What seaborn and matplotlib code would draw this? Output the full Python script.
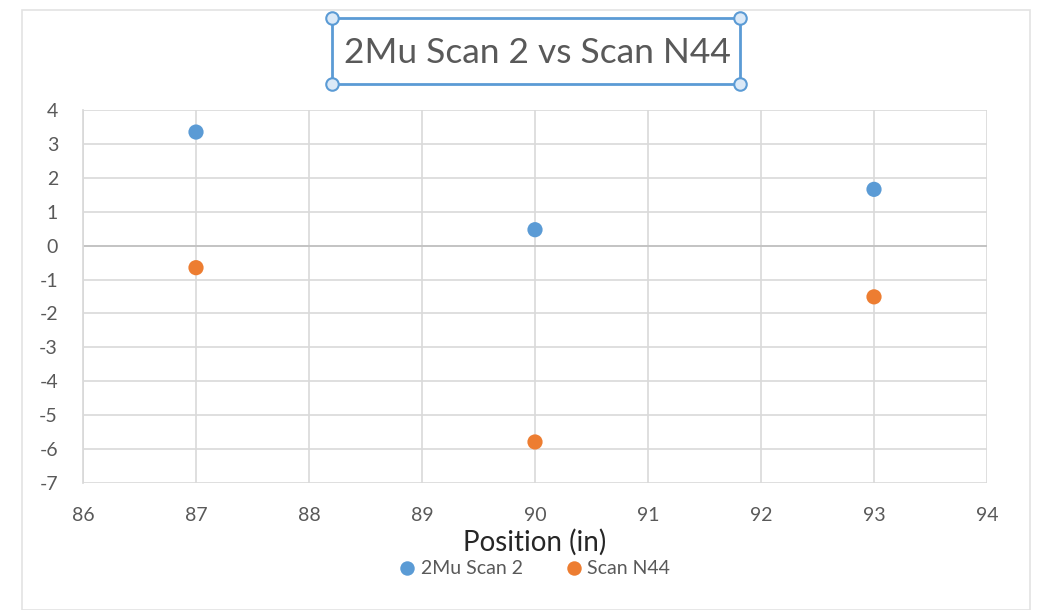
import matplotlib
matplotlib.use("Agg")
import matplotlib.pyplot as plt
import seaborn as sns
import pandas as pd
from matplotlib.patches import Rectangle

positions = [87, 90, 93]
scan_2mu = [3.35, 0.47, 1.66]
scan_n44 = [-0.65, -5.79, -1.51]
series_names = ["2Mu Scan 2", "Scan N44"]
x_ticks = [86, 87, 88, 89, 90, 91, 92, 93, 94]
y_ticks = [4, 3, 2, 1, 0, -1, -2, -3, -4, -5, -6, -7]
title = "2Mu Scan 2 vs Scan N44"
x_label = "Position (in)"

df = pd.DataFrame({
    "Position": positions * 2,
    "Value": scan_2mu + scan_n44,
    "Series": [series_names[0]] * 3 + [series_names[1]] * 3,
})

sns.set_theme(style="white")
plt.rcParams["font.family"] = ["Lato", "DejaVu Sans"]
plt.rcParams["axes.unicode_minus"] = False
TXT = "#595959"

W, H = 1038, 610
fig = plt.figure(figsize=(W / 100, H / 100), dpi=100)
ax = fig.add_axes([83 / W, 1 - 483 / H, (987 - 83) / W, (483 - 110) / H])

sns.scatterplot(data=df, x="Position", y="Value", hue="Series",
                palette=["#5B9BD5", "#ED7D31"], s=120, edgecolor="none",
                ax=ax, legend=True, zorder=3)

ax.set_xlim(86, 94)
ax.set_ylim(-7, 4)
ax.set_xticks(x_ticks)
ax.set_yticks(y_ticks)
ax.set_yticklabels([str(v) for v in y_ticks])
ax.grid(True, color="#d9d9d9", linewidth=1.2)
ax.set_axisbelow(True)
for s in ["top", "right", "bottom"]:
    ax.spines[s].set_visible(False)
ax.spines["left"].set_color("#d9d9d9")
ax.axhline(0, color="#bfbfbf", linewidth=1.2, zorder=1)
ax.tick_params(axis="both", colors=TXT, labelsize=14, length=0)
ax.tick_params(axis="y", pad=18)
ax.tick_params(axis="x", pad=17)
ax.set_ylabel("")
ax.set_xlabel(x_label, fontsize=20, color="#262626", labelpad=4)

leg = ax.legend(loc="center", bbox_to_anchor=(529 / W, 1 - 569 / H),
                bbox_transform=fig.transFigure, ncol=2, frameon=False,
                fontsize=14, handletextpad=-0.3, columnspacing=1.6,
                markerscale=0.95)
for t in leg.get_texts():
    t.set_color(TXT)

fig.text(537 / W, 1 - 53 / H, title, ha="center", va="center",
         fontsize=25.5, color=TXT)

# chart-area border and title selection box
fig.add_artist(Rectangle((22 / W, 0), (1030 - 22) / W, (605 - 5) / H,
                         transform=fig.transFigure, fill=False,
                         edgecolor="#e3e3e3", linewidth=1.2))
fig.add_artist(Rectangle((332 / W, 1 - 84 / H), (740 - 332) / W, (84 - 18) / H,
                         transform=fig.transFigure, fill=False,
                         edgecolor="#5B9BD5", linewidth=2))
for (px, py) in [(332, 18), (740, 18), (332, 84), (740, 84)]:
    fig.add_artist(plt.Line2D([px / W], [1 - py / H], marker="o",
                              markersize=9, markerfacecolor="#dbe9f7",
                              markeredgecolor="#5B9BD5", markeredgewidth=1.5,
                              transform=fig.transFigure))

fig.savefig("out.png", dpi=100)
